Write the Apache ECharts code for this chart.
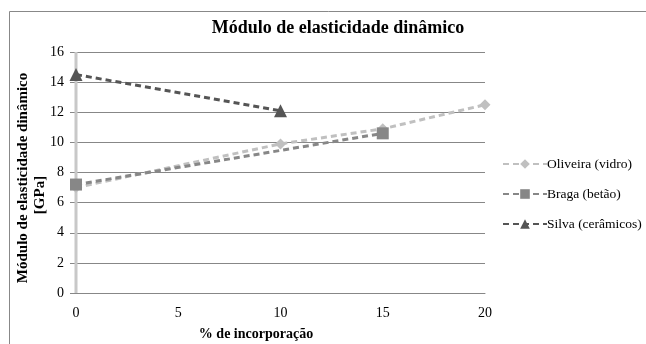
<!DOCTYPE html>
<html>
<head>
<meta charset="utf-8">
<script src="https://cdn.jsdelivr.net/npm/echarts@6/dist/echarts.min.js"></script>
<style>
html,body{margin:0;padding:0;background:#fff;}
#chart{width:646px;height:344px;}
</style>
</head>
<body>
<div id="chart"></div>
<script>
// % de incorporação vs. dynamic modulus (GPa)
const seriesNames = ['Oliveira (vidro)', 'Braga (betão)', 'Silva (cerâmicos)'];
const oliveiraX = [0, 10, 15, 20];
const oliveiraY = [7.0, 9.9, 10.9, 12.5];
const bragaX = [0, 15];
const bragaY = [7.2, 10.6];
const silvaX = [0, 10];
const silvaY = [14.5, 12.1];
const xTicks = [0, 5, 10, 15, 20];
const yTicks = [0, 2, 4, 6, 8, 10, 12, 14, 16];

const pairs = (xs, ys) => xs.map((x, i) => [x, ys[i]]);
const serif = 'Liberation Serif';
const colors = ['#c0c0c0', '#878787', '#555555'];
const symbols = ['diamond', 'rect', 'triangle'];
const symbolSizes = [11, 12, 13];

const chart = echarts.init(document.getElementById('chart'), null, {renderer: 'canvas'});
const dataSets = [pairs(oliveiraX, oliveiraY), pairs(bragaX, bragaY), pairs(silvaX, silvaY)];

chart.setOption({
  animation: false,
  backgroundColor: '#fff',
  title: {
    text: 'Módulo de elasticidade dinâmico',
    left: 333, top: 14, textAlign: 'center',
    textStyle: {fontFamily: serif, fontSize: 18, fontWeight: 'bold', color: '#000'}
  },
  graphic: [
    {type: 'rect', shape: {x: 9.5, y: 11.5, width: 645, height: 340},
     style: {fill: null, stroke: '#888', lineWidth: 1}, silent: true},
    {type: 'text', x: 23, y: 178, rotation: Math.PI / 2, silent: true, style: {
      text: 'Módulo de elasticidade dinâmico', align: 'center', verticalAlign: 'middle',
      font: 'bold 15px "Liberation Serif"', fill: '#000'
    }},
    {type: 'text', x: 40, y: 195, rotation: Math.PI / 2, silent: true, style: {
      text: '[GPa]', align: 'center', verticalAlign: 'middle',
      font: 'bold 15px "Liberation Serif"', fill: '#000'
    }},
    {type: 'text', x: 256, y: 334, silent: true, style: {
      text: '% de incorporação', align: 'center', verticalAlign: 'middle',
      font: 'bold 14px "Liberation Serif"', fill: '#000'
    }}
  ],
  legend: {
    orient: 'vertical', left: 497, top: 152, itemGap: 16,
    itemWidth: 44, itemHeight: 12,
    data: seriesNames,
    textStyle: {fontFamily: serif, fontSize: 13.5, color: '#000', padding: [0, 0, 0, -5]}
  },
  grid: {left: 76, right: 161, top: 52, bottom: 51},
  xAxis: {
    type: 'value', min: 0, max: 20, interval: 5,
    axisLine: {lineStyle: {color: '#878787', width: 1}},
    axisTick: {show: false},
    splitLine: {show: false},
    axisLabel: {fontFamily: serif, fontSize: 14, color: '#000', margin: 13,
      formatter: v => xTicks.includes(v) ? String(v) : ''}
  },
  yAxis: {
    type: 'value', min: 0, max: 16, interval: 2,
    axisLine: {show: false},
    axisTick: {show: true, length: 6, lineStyle: {color: '#878787'}},
    splitLine: {lineStyle: {color: '#878787', width: 1}},
    axisLabel: {fontFamily: serif, fontSize: 14, color: '#000', margin: 12,
      formatter: v => yTicks.includes(v) ? String(v) : ''}
  },
  series: [
    // light gray vertical line at x = 0 standing in for the value axis
    {type: 'line', data: [[0, 0], [0, 16]], symbol: 'none', silent: true,
     lineStyle: {color: '#c8c8c8', width: 3}, z: 1, tooltip: {show: false}},
    ...seriesNames.map((name, i) => ({
      name, type: 'line', data: dataSets[i], z: 3 + i,
      symbol: symbols[i], symbolSize: symbolSizes[i],
      itemStyle: {color: colors[i]},
      lineStyle: {color: colors[i], width: 3, type: [6, 4]}
    }))
  ]
});
</script>
</body>
</html>
